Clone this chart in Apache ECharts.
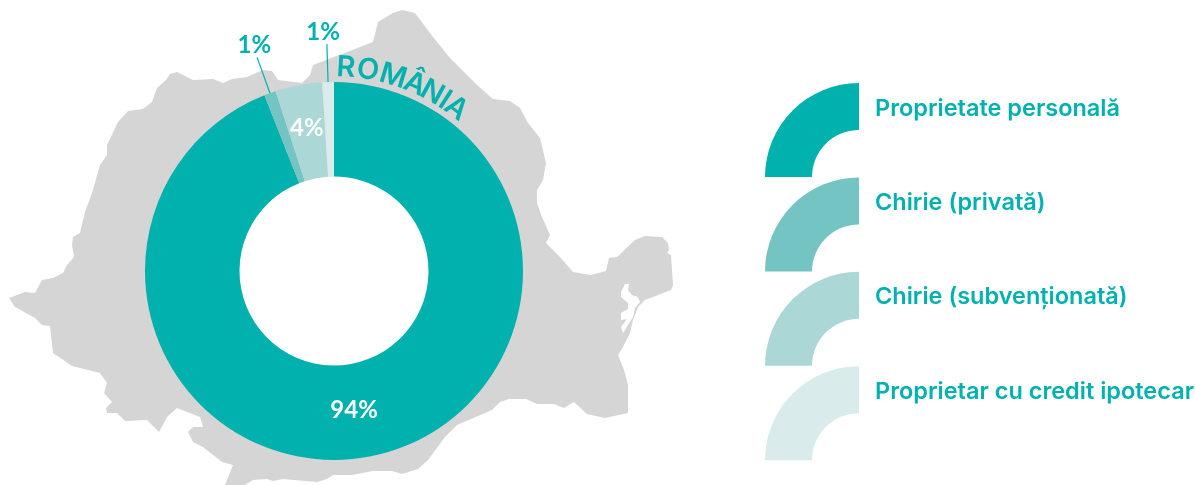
<!DOCTYPE html>
<html>
<head>
<meta charset="utf-8">
<style>
  html, body { margin: 0; padding: 0; background: #fff; }
  #main { width: 1195px; height: 485px; }
</style>
<script src="https://cdn.jsdelivr.net/npm/echarts@6/dist/echarts.min.js"></script>
</head>
<body>
<div id="main"></div>
<script>
const categories = ['Proprietate personală', 'Chirie (privată)', 'Chirie (subvenționată)', 'Proprietar cu credit ipotecar'];
const values = [94, 1, 4, 1];
const colors = ['#00b1ae', '#73c4c2', '#abd8d6', '#d9eceb'];

// contur harta
const mapOutline = [
  [9,298],[25,292],[35,293],[42,280],[53,278],[63,273],[67,265],[74,257],[72,245],[73,237],[80,233],[85,212],[93,190],[100,165],
  [107,155],[107,145],[118,122],[128,111],[143,109],[152,102],[157,88],[166,80],[170,74],[177,72],[193,80],[213,79],[223,83],
  [232,79],[247,77],[263,70],[272,71],[278,80],[302,83],[310,75],[313,65],[373,42],[378,22],[393,13],[402,10],[415,13],[433,37],
  [450,58],[477,85],[493,99],[510,101],[520,108],[528,123],[540,138],[546,163],[543,180],[537,190],[537,203],[542,217],[550,235],
  [546,243],[560,257],[573,272],[591,275],[606,271],[609,258],[617,257],[635,240],[645,236],[662,237],[668,243],[669,250],[667,253],
  [671,255],[673,285],[671,290],[645,300],[638,307],[633,320],[630,333],[623,347],[618,355],[624,370],[628,385],[628,413],[605,418],
  [587,414],[574,402],[564,408],[554,404],[537,404],[526,399],[509,399],[500,402],[492,410],[457,425],[445,437],[428,460],[418,469],
  [402,474],[392,471],[373,471],[352,475],[333,475],[327,479],[317,482],[283,479],[273,481],[267,479],[253,480],[245,485],[225,485],
  [233,465],[222,462],[203,447],[193,442],[188,432],[193,427],[203,427],[200,417],[177,408],[167,417],[159,432],[147,420],[125,421],
  [117,413],[107,413],[106,408],[112,402],[104,393],[107,383],[100,373],[72,366],[53,353],[50,326],[42,325],[35,318],[15,307]
];
const deltaLakes = [
  [621,292],[625,284],[629,284],[628,290],[632,295],[638,297],[640,302],[635,308],[633,317],[628,325],[623,333],[621,327],[627,319],
  [621,320],[621,313],[628,309],[628,303],[621,297]
];

const countryLetters = ['R', 'O', 'M', 'Â', 'N', 'I', 'A'];
const letterAngles = [3.4, 9.6, 16.9, 23.4, 28.8, 33, 36.9];

const center = [334, 271];
const fontName = 'Inter';
const numberFont = 'Lato';

const chart = echarts.init(document.getElementById('main'));

const letterGraphics = countryLetters.map((ch, i) => {
  const rad = letterAngles[i] * Math.PI / 180;
  return {
    type: 'text',
    x: center[0] + 203.5 * Math.sin(rad),
    y: center[1] - 203.5 * Math.cos(rad),
    rotation: -rad,
    z: 1,
    style: {
      text: ch,
      fill: colors[0],
      font: '600 29px ' + fontName,
      align: 'center',
      verticalAlign: 'middle',
    },
  };
});

const option = {
  backgroundColor: '#fff',
  animation: false,
  legend: {
    orient: 'vertical',
    left: 765,
    top: 83,
    itemWidth: 94,
    itemHeight: 94,
    itemGap: 0.4,
    padding: 0,
    selectedMode: false,
    icon: 'path://M0 94A94 94 0 0 1 94 0L94 47A47 47 0 0 0 47 94Z',
    data: categories,
    // al doilea rand gol urca textul in jumatatea de sus a simbolului
    formatter: name => name + '\n ',
    textStyle: {
      color: colors[0],
      fontFamily: fontName,
      fontWeight: 600,
      fontSize: 23.5,
      lineHeight: 43,
      padding: [0, 0, 0, 11],
    },
  },
  graphic: [
    { type: 'polygon', z: 0, shape: { points: mapOutline }, style: { fill: '#d5d5d5' } },
    { type: 'polygon', z: 0, shape: { points: deltaLakes }, style: { fill: '#fff' } },
    { type: 'circle', z: 0, shape: { cx: center[0], cy: center[1], r: 95 }, style: { fill: '#fff' } },
    ...letterGraphics,
  ],
  series: [
    {
      type: 'pie',
      center: center,
      radius: [94.5, 189],
      startAngle: 90,
      clockwise: true,
      avoidLabelOverlap: false,
      silent: true,
      labelLine: { length: 38, length2: 0, lineStyle: { color: colors[0], width: 1.2 } },
      labelLayout(params) {
        if (params.dataIndex === 1) return { dx: 19, dy: -12 };
        if (params.dataIndex === 3) return { dx: 18, dy: -12 };
        return {};
      },
      data: categories.map((name, i) => ({
        name: name,
        value: values[i],
        itemStyle: { color: colors[i] },
        label: values[i] > 1
          ? { show: true, position: 'inside', formatter: '{c}%', color: '#fff', fontFamily: numberFont, fontWeight: 'bold', fontSize: 24, offset: i === 0 ? [-7, -3] : [0, -1] }
          : { show: true, position: 'outside', formatter: '{c}%', color: colors[0], fontFamily: numberFont, fontWeight: 'bold', fontSize: 24 },
        labelLine: { show: values[i] === 1 },
      })),
    },
  ],
};

chart.setOption(option);
</script>
</body>
</html>
